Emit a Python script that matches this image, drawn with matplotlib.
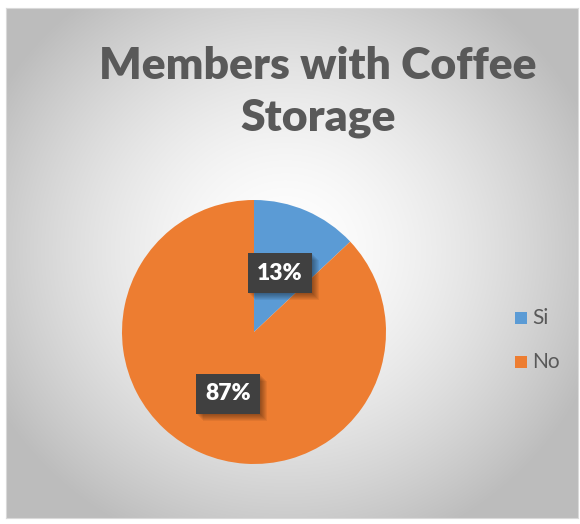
import numpy as np
import matplotlib.pyplot as plt
from matplotlib.patches import Rectangle

labels = ["Si", "No"]
shares = [13, 87]
colors = ["#5B9BD5", "#ED7D31"]
title = "Members with Coffee\nStorage"

W, H = 580, 524
fig = plt.figure(figsize=(W / 100, H / 100), dpi=100)
fig.patch.set_facecolor("white")


def px_rect(x, y, w, h, **kw):
    # rectangle given in picture pixels from the top-left corner
    fig.add_artist(Rectangle((x / W, 1 - (y + h) / H), w / W, h / H,
                             transform=fig.transFigure, **kw))


# chart area with radial gradient background
x0, y0, x1, y1 = 6, 8, 578, 518
bg = fig.add_axes([x0 / W, 1 - y1 / H, (x1 - x0) / W, (y1 - y0) / H])
yy, xx = np.mgrid[y0:y1, x0:x1]
d = np.hypot(xx - 285, (yy - 250) * 1.05) / 330
v = np.clip(1.0 - 0.26 * d ** 1.6, 0.74, 1.0)
bg.imshow(np.dstack([v, v, v]), extent=[x0, x1, y1, y0], aspect="auto")
bg.set_xticks([])
bg.set_yticks([])
for s in bg.spines.values():
    s.set_color("#d9d9d9")

fig.text(318 / W, 1 - 92 / H, title, ha="center", va="center",
         fontsize=32, fontweight="heavy", color="#595959",
         family=["Lato", "DejaVu Sans"], linespacing=1.32)

# pie
cx, cy, r = 254, 332, 132
ax = fig.add_axes([(cx - r) / W, 1 - (cy + r) / H, 2 * r / W, 2 * r / H])
ax.pie(shares, colors=colors, startangle=90, counterclock=False,
       wedgeprops=dict(linewidth=0))
ax.set_xlim(-1, 1)
ax.set_ylim(-1, 1)
ax.set_aspect("auto")
ax.axis("off")

# data labels: dark box with soft shadow
label_pos = [(280, 273), (228, 394)]
bw, bh = 64, 40
for (lx, ly), s in zip(label_pos, shares):
    for k in range(7, 0, -1):
        px_rect(lx - bw / 2 + k, ly - bh / 2 + k, bw, bh,
                fc="black", ec="none", alpha=0.06)
    px_rect(lx - bw / 2, ly - bh / 2, bw, bh, fc="#404040", ec="none")
    fig.text(lx / W, 1 - ly / H, f"{s}%", ha="center", va="center",
             fontsize=16.5, fontweight="heavy", color="white",
             family=["Lato", "DejaVu Sans"])

# legend
for i, (lab, c) in enumerate(zip(labels, colors)):
    ly = 318 + i * 44
    px_rect(515, ly - 6, 12, 12, fc=c, ec="none")
    fig.text(532 / W, 1 - ly / H, lab, ha="left", va="center",
             fontsize=15, color="#595959", family=["Lato", "DejaVu Sans"])

fig.savefig("out.png", dpi=100)
